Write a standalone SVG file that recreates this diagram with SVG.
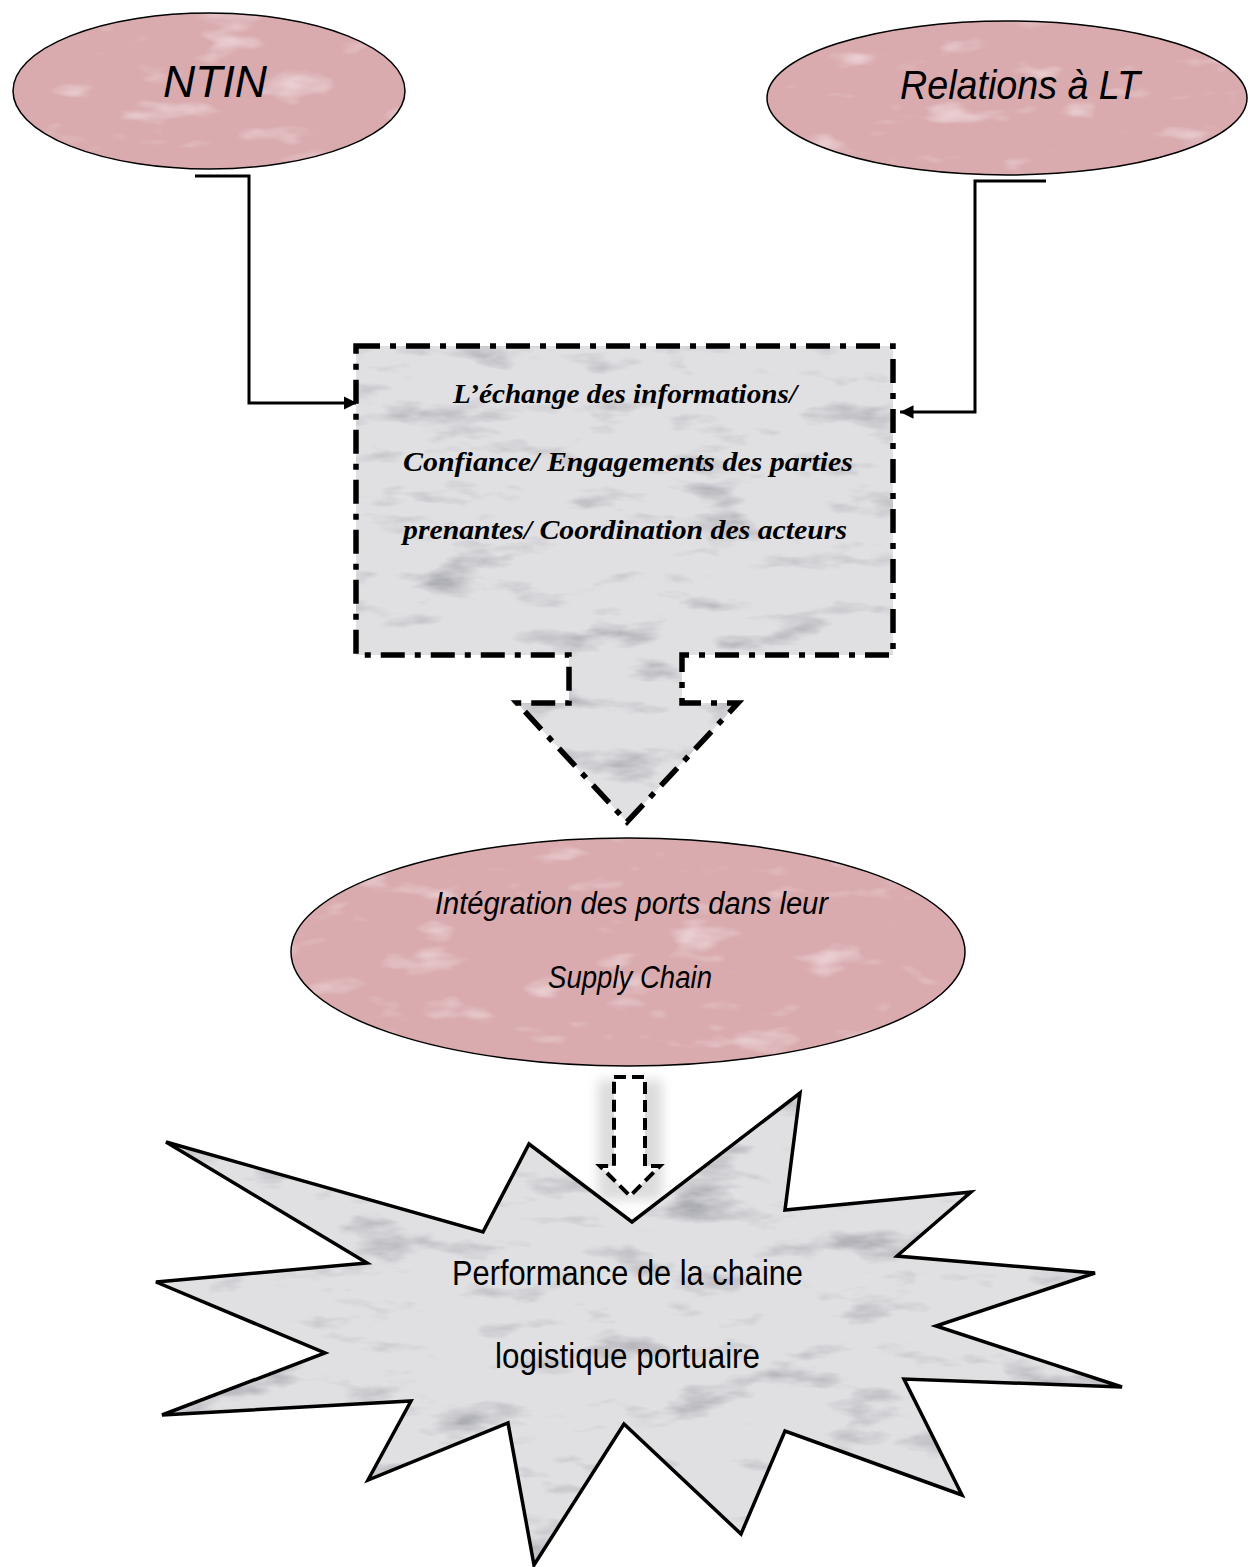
<svg xmlns="http://www.w3.org/2000/svg" width="1248" height="1567" viewBox="0 0 1248 1567">
<style>
.pink{fill:#d9aaae;filter:url(#marblePink)}
.gray{fill:#e0e0e3;filter:url(#marbleGray)}
.outline{fill:none;stroke:#000}
.conn{fill:none;stroke:#000;stroke-width:3}
.script{font-family:"Liberation Serif",serif;font-style:italic;font-weight:bold;font-size:28px;fill:#000}
.hand{font-family:"Liberation Sans",sans-serif;fill:#000}
</style>
<defs>
<filter id="marbleGray" x="0" y="0" width="1" height="1">
<feTurbulence type="fractalNoise" baseFrequency="0.012 0.035" numOctaves="4" seed="7" result="n"/>
<feColorMatrix in="n" type="matrix" values="0 0 0 0 0.42 0 0 0 0 0.42 0 0 0 0 0.46 3.2 0 0 0 -1.75" result="v"/>
<feComposite in="v" in2="SourceGraphic" operator="atop"/>
</filter>
<filter id="marblePink" x="0" y="0" width="1" height="1">
<feTurbulence type="fractalNoise" baseFrequency="0.015 0.04" numOctaves="3" seed="4" result="n"/>
<feColorMatrix in="n" type="matrix" values="0 0 0 0 0.90 0 0 0 0 0.76 0 0 0 0 0.78 2.2 0 0 0 -1.3" result="v"/>
<feComposite in="v" in2="SourceGraphic" operator="atop"/>
</filter>
<filter id="soft" x="-50%" y="-20%" width="200%" height="140%">
<feGaussianBlur stdDeviation="6"/>
</filter>
<marker id="ah" viewBox="0 0 10 10" refX="10" refY="5" markerWidth="4.5" markerHeight="4.5" orient="auto" markerUnits="strokeWidth">
<path d="M0,0 L10,5 L0,10 Z" fill="#000"/>
</marker>
</defs>

<g id="connectors">
<polyline class="conn" points="195,176 249,176 249,403 357,403" marker-end="url(#ah)"/>
<polyline class="conn" points="1046,181 975,181 975,412 900,412" marker-end="url(#ah)"/>
<g id="hollow-arrow">
<rect x="598" y="1080" width="64" height="120" fill="#9a9a9a" opacity="0.35" filter="url(#soft)"/>
<path d="M614,1077 H645 V1166 H660 L630,1196 L600,1166 H614 Z" fill="#fff" stroke="#000" stroke-width="4" stroke-dasharray="12 6"/>
</g>
</g>

<g id="node-ntin">
<ellipse class="pink" cx="209" cy="91" rx="196" ry="78"/>
<ellipse class="outline" cx="209" cy="91" rx="196" ry="78" stroke-width="1.5"/>
<text class="hand" x="163" y="97" font-size="44" font-style="italic" textLength="104" lengthAdjust="spacingAndGlyphs">NTIN</text>
</g>

<g id="node-relations">
<ellipse class="pink" cx="1007" cy="98" rx="240" ry="77"/>
<ellipse class="outline" cx="1007" cy="98" rx="240" ry="77" stroke-width="1.5"/>
<text class="hand" x="900" y="99" font-size="40" font-style="italic" textLength="240" lengthAdjust="spacingAndGlyphs">Relations à LT</text>
</g>

<g id="node-callout">
<path class="gray" d="M356,346 H893 V655 H682 V703 H738 L627,822 L517,703 H569 V655 H356 Z"/>
<path class="outline" d="M356,346 H893 V655 H682 V703 H738 L627,822 L517,703 H569 V655 H356 Z" stroke-width="5.5" stroke-dasharray="24 10 6 10"/>
<text class="script" x="453" y="403" textLength="344" lengthAdjust="spacingAndGlyphs">L’échange des informations/</text>
<text class="script" x="403" y="471" textLength="450" lengthAdjust="spacingAndGlyphs">Confiance/ Engagements des parties</text>
<text class="script" x="403" y="539" textLength="444" lengthAdjust="spacingAndGlyphs">prenantes/ Coordination des acteurs</text>
</g>

<g id="node-integration">
<ellipse class="pink" cx="628" cy="952" rx="337" ry="114"/>
<ellipse class="outline" cx="628" cy="952" rx="337" ry="114" stroke-width="1.5"/>
<text class="hand" x="435" y="914" font-size="31" font-style="italic" textLength="393" lengthAdjust="spacingAndGlyphs">Intégration des ports dans leur</text>
<text class="hand" x="548" y="988" font-size="31" font-style="italic" textLength="164" lengthAdjust="spacingAndGlyphs">Supply Chain</text>
</g>

<g id="node-performance">
<polygon class="gray" points="166,1142 483,1232 529,1144 632,1222 800,1093 785,1210 971,1192 897,1256 1095,1273 936,1326 1122,1387 904,1379 962,1495 785,1431 741,1534 624,1424 534,1565 508,1423 368,1480 411,1401 162,1415 325,1353 156,1282 367,1263"/>
<polygon class="outline" stroke-width="3.5" stroke-linejoin="miter" points="166,1142 483,1232 529,1144 632,1222 800,1093 785,1210 971,1192 897,1256 1095,1273 936,1326 1122,1387 904,1379 962,1495 785,1431 741,1534 624,1424 534,1565 508,1423 368,1480 411,1401 162,1415 325,1353 156,1282 367,1263"/>
<text class="hand" x="452" y="1285" font-size="35" textLength="351" lengthAdjust="spacingAndGlyphs">Performance de la chaine</text>
<text class="hand" x="495" y="1368" font-size="35" textLength="265" lengthAdjust="spacingAndGlyphs">logistique portuaire</text>
</g>
</svg>
